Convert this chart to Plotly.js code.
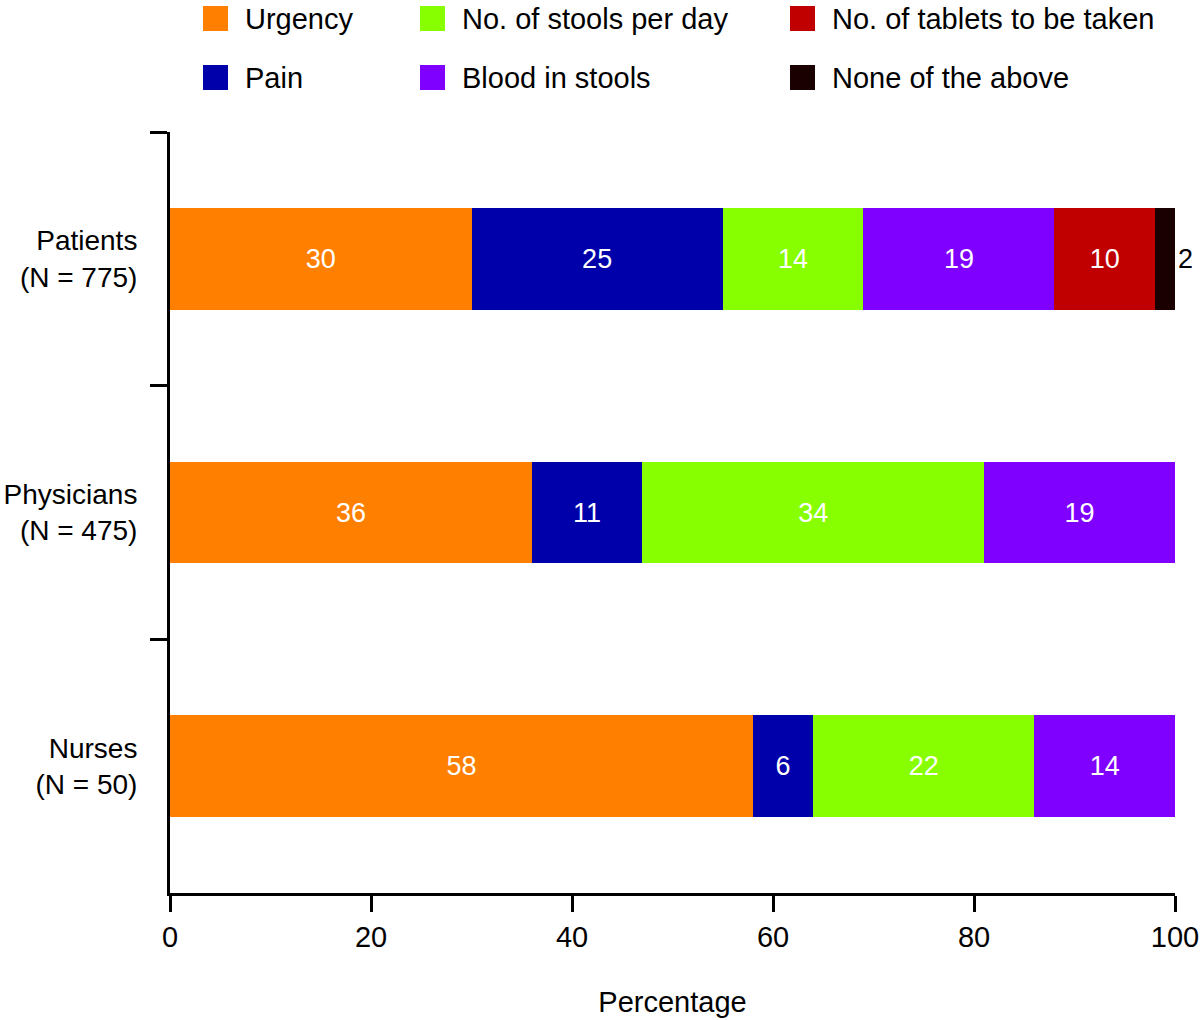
<!DOCTYPE html>
<html>
<head>
<meta charset="utf-8">
<script src="https://cdn.plot.ly/plotly-3.0.1.min.js"></script>
<style>html,body{margin:0;padding:0;background:#fff}#chart{width:1200px;height:1020px}</style>
</head>
<body>
<div id="chart"></div>
<script>
var categories = ["Patients<br>(N = 775)", "Physicians<br>(N = 475)", "Nurses<br>(N = 50)"];
var seriesNames = ["Urgency", "Pain", "No. of stools per day", "Blood in stools", "No. of tablets to be taken", "None of the above"];
var urgency = [30, 36, 58];
var pain = [25, 11, 6];
var stools = [14, 34, 22];
var blood = [19, 19, 14];
var tablets = [10, null, null];
var none = [2, null, null];
var xTicks = [0, 20, 40, 60, 80, 100];

var colors = ["#FF8000", "#0000AA", "#88FF00", "#8000FF", "#C00000", "#1A0000"];
var FONT = "'Liberation Sans Narrow', 'Liberation Sans', Arial, sans-serif";
var values = [urgency, pain, stools, blood, tablets, none];

var traces = values.map(function (v, i) {
  var last = i === values.length - 1;
  return {
    type: "bar",
    orientation: "h",
    name: seriesNames[i],
    y: categories,
    x: v,
    marker: {color: colors[i], line: {width: 0}},
    text: v.map(function (d) { return d == null ? "" : String(d); }),
    textposition: last ? "outside" : "inside",
    insidetextanchor: "middle",
    textangle: 0,
    constraintext: "none",
    cliponaxis: false,
    textfont: {family: FONT, size: 27, color: last ? "#000" : "#fff"},
    hoverinfo: "x+name",
    showlegend: false
  };
});

// plot area in pixels
var L = 170, R = 1175, T = 132, B = 893;
function px(x) { return (x - L) / (R - L); }
function py(y) { return (B - y) / (B - T); }

var legendCols = [203, 420, 790];
var legendRows = [18.5, 77.5];
var legendOrder = [[0, 2, 4], [1, 3, 5]];
var shapes = [], annotations = [];
legendOrder.forEach(function (row, r) {
  row.forEach(function (si, c) {
    var x0 = legendCols[c], yc = legendRows[r];
    shapes.push({type: "rect", xref: "paper", yref: "paper",
      x0: px(x0), x1: px(x0 + 25), y0: py(yc + 12.5), y1: py(yc - 12.5),
      fillcolor: colors[si], line: {width: 0}});
    annotations.push({xref: "paper", yref: "paper", x: px(x0 + 40), y: py(yc),
      xanchor: "left", yanchor: "middle", showarrow: false,
      text: seriesNames[si], font: {family: FONT, size: 29, color: "#000"}});
  });
});

var layout = {
  width: 1200, height: 1020,
  margin: {l: L, r: 1200 - R, t: T, b: 1020 - B},
  paper_bgcolor: "#fff", plot_bgcolor: "#fff",
  barmode: "stack",
  bargap: 0.6,
  showlegend: false,
  font: {family: FONT, size: 29, color: "#000"},
  xaxis: {
    range: [0, 100], tickvals: xTicks, ticktext: xTicks.map(String),
    showgrid: false, zeroline: false,
    showline: true, linecolor: "#000", linewidth: 3,
    ticks: "outside", ticklen: 16, tickwidth: 3, tickcolor: "#000",
    tickfont: {family: FONT, size: 29, color: "#000"},
    title: {text: "Percentage", font: {family: FONT, size: 29, color: "#000"}, standoff: 40},
    fixedrange: true
  },
  yaxis: {
    type: "category",
    categoryorder: "array", categoryarray: categories,
    autorange: "reversed",
    tickson: "boundaries",
    showgrid: false, zeroline: false,
    showline: true, linecolor: "#000", linewidth: 3,
    ticks: "outside", ticklen: 17, tickwidth: 3, tickcolor: "#000",
    ticklabelstandoff: 24,
    tickfont: {family: FONT, size: 28, color: "#000"},
    fixedrange: true
  },
  shapes: shapes,
  annotations: annotations
};

Plotly.newPlot("chart", traces, layout, {displayModeBar: false, staticPlot: true});
</script>
</body>
</html>
